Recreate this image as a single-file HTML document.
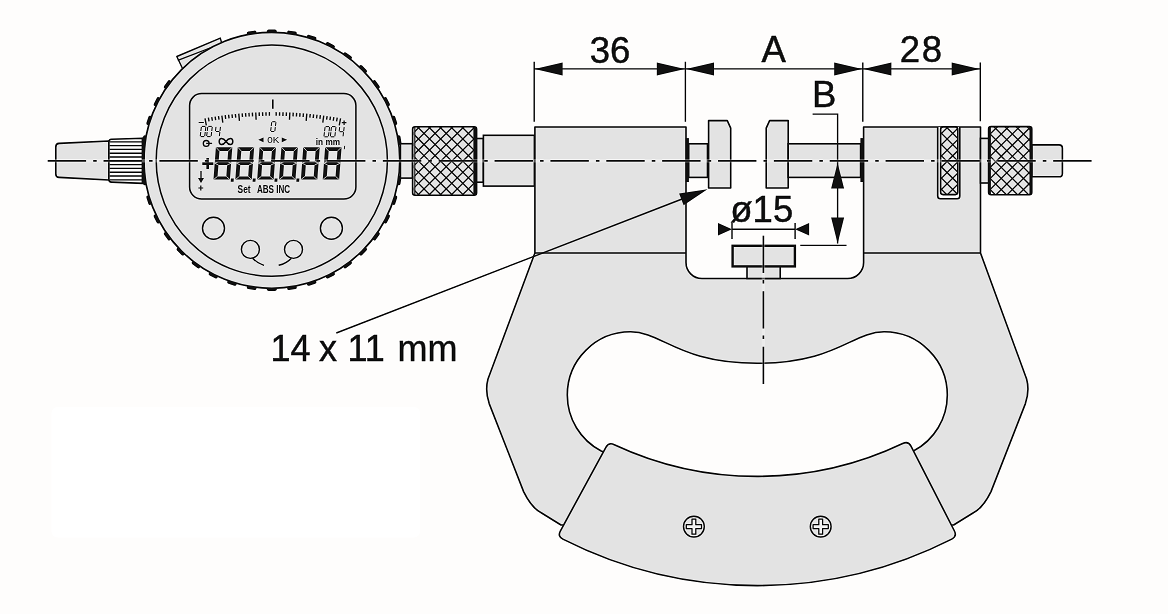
<!DOCTYPE html>
<html><head><meta charset="utf-8"><title>Micrometer</title>
<style>html,body{margin:0;padding:0;background:#fefdfc;}svg{display:block;will-change:transform;}</style></head>
<body><svg width="1168" height="614" viewBox="0 0 1168 614"><defs><filter id="sh" x="0" y="0" width="1168" height="614" filterUnits="userSpaceOnUse" color-interpolation-filters="sRGB"><feConvolveMatrix order="3" kernelMatrix="0 -0.07 0 -0.07 1.28 -0.07 0 -0.07 0" divisor="1" edgeMode="duplicate" preserveAlpha="true"/></filter></defs><g filter="url(#sh)"><rect x="0" y="0" width="1168" height="614" fill="#fefdfc"/>
<rect x="51.5" y="407" width="368.5" height="130.5" rx="6" fill="#ffffff"/>
<g fill="#111111"><rect x="-4.9" y="-1.8" width="9.8" height="3.6" rx="1.8" transform="translate(400.80,160.30) rotate(90.0)"/><rect x="-4.9" y="-1.8" width="9.8" height="3.6" rx="1.8" transform="translate(399.21,140.12) rotate(81.0)"/><rect x="-4.9" y="-1.8" width="9.8" height="3.6" rx="1.8" transform="translate(394.49,120.44) rotate(72.0)"/><rect x="-4.9" y="-1.8" width="9.8" height="3.6" rx="1.8" transform="translate(386.74,101.74) rotate(63.0)"/><rect x="-4.9" y="-1.8" width="9.8" height="3.6" rx="1.8" transform="translate(376.16,84.48) rotate(54.0)"/><rect x="-4.9" y="-1.8" width="9.8" height="3.6" rx="1.8" transform="translate(363.02,69.08) rotate(45.0)"/><rect x="-4.9" y="-1.8" width="9.8" height="3.6" rx="1.8" transform="translate(347.62,55.94) rotate(36.0)"/><rect x="-4.9" y="-1.8" width="9.8" height="3.6" rx="1.8" transform="translate(330.36,45.36) rotate(27.0)"/><rect x="-4.9" y="-1.8" width="9.8" height="3.6" rx="1.8" transform="translate(311.66,37.61) rotate(18.0)"/><rect x="-4.9" y="-1.8" width="9.8" height="3.6" rx="1.8" transform="translate(291.98,32.89) rotate(9.0)"/><rect x="-4.9" y="-1.8" width="9.8" height="3.6" rx="1.8" transform="translate(271.80,31.30) rotate(0.0)"/><rect x="-4.9" y="-1.8" width="9.8" height="3.6" rx="1.8" transform="translate(251.62,32.89) rotate(-9.0)"/><rect x="-4.9" y="-1.8" width="9.8" height="3.6" rx="1.8" transform="translate(167.44,84.48) rotate(-54.0)"/><rect x="-4.9" y="-1.8" width="9.8" height="3.6" rx="1.8" transform="translate(156.86,101.74) rotate(-63.0)"/><rect x="-4.9" y="-1.8" width="9.8" height="3.6" rx="1.8" transform="translate(149.11,120.44) rotate(-72.0)"/><rect x="-4.9" y="-1.8" width="9.8" height="3.6" rx="1.8" transform="translate(144.39,140.12) rotate(-81.0)"/><rect x="-4.9" y="-1.8" width="9.8" height="3.6" rx="1.8" transform="translate(142.80,160.30) rotate(-90.0)"/><rect x="-4.9" y="-1.8" width="9.8" height="3.6" rx="1.8" transform="translate(144.39,180.48) rotate(-99.0)"/><rect x="-4.9" y="-1.8" width="9.8" height="3.6" rx="1.8" transform="translate(149.11,200.16) rotate(-108.0)"/><rect x="-4.9" y="-1.8" width="9.8" height="3.6" rx="1.8" transform="translate(156.86,218.86) rotate(-117.0)"/><rect x="-4.9" y="-1.8" width="9.8" height="3.6" rx="1.8" transform="translate(167.44,236.12) rotate(-126.0)"/><rect x="-4.9" y="-1.8" width="9.8" height="3.6" rx="1.8" transform="translate(180.58,251.52) rotate(-135.0)"/><rect x="-4.9" y="-1.8" width="9.8" height="3.6" rx="1.8" transform="translate(195.98,264.66) rotate(-144.0)"/><rect x="-4.9" y="-1.8" width="9.8" height="3.6" rx="1.8" transform="translate(213.24,275.24) rotate(-153.0)"/><rect x="-4.9" y="-1.8" width="9.8" height="3.6" rx="1.8" transform="translate(231.94,282.99) rotate(-162.0)"/><rect x="-4.9" y="-1.8" width="9.8" height="3.6" rx="1.8" transform="translate(251.62,287.71) rotate(-171.0)"/><rect x="-4.9" y="-1.8" width="9.8" height="3.6" rx="1.8" transform="translate(271.80,289.30) rotate(-180.0)"/><rect x="-4.9" y="-1.8" width="9.8" height="3.6" rx="1.8" transform="translate(291.98,287.71) rotate(-189.0)"/><rect x="-4.9" y="-1.8" width="9.8" height="3.6" rx="1.8" transform="translate(311.66,282.99) rotate(-198.0)"/><rect x="-4.9" y="-1.8" width="9.8" height="3.6" rx="1.8" transform="translate(330.36,275.24) rotate(-207.0)"/><rect x="-4.9" y="-1.8" width="9.8" height="3.6" rx="1.8" transform="translate(347.62,264.66) rotate(-216.0)"/><rect x="-4.9" y="-1.8" width="9.8" height="3.6" rx="1.8" transform="translate(363.02,251.52) rotate(-225.0)"/><rect x="-4.9" y="-1.8" width="9.8" height="3.6" rx="1.8" transform="translate(376.16,236.12) rotate(-234.0)"/><rect x="-4.9" y="-1.8" width="9.8" height="3.6" rx="1.8" transform="translate(386.74,218.86) rotate(-243.0)"/><rect x="-4.9" y="-1.8" width="9.8" height="3.6" rx="1.8" transform="translate(394.49,200.16) rotate(-252.0)"/><rect x="-4.9" y="-1.8" width="9.8" height="3.6" rx="1.8" transform="translate(399.21,180.48) rotate(-261.0)"/></g>
<path d="M182.5,68.5 L176.8,56.5 L220.3,38.1 L221.8,43.5" fill="#e3e3e3" stroke="#111111" stroke-width="1.4" stroke-linejoin="round"/>
<path d="M177.8,60.3 L210,48" fill="none" stroke="#111111" stroke-width="1.3"/>
<circle cx="271.8" cy="160.3" r="128.0" fill="#e3e3e3" stroke="#111111" stroke-width="1.7"/>
<circle cx="271.8" cy="160.60000000000002" r="115.6" fill="none" stroke="#111111" stroke-width="1.5"/>
<rect x="189.6" y="93.6" width="166.3" height="105.5" rx="12" fill="#e3e3e3" stroke="#111111" stroke-width="1.5"/>
<g fill="none" stroke="#111111" stroke-width="1.4"><circle cx="213.5" cy="228.2" r="11"/><circle cx="331.4" cy="228.2" r="11"/><circle cx="250.4" cy="249.4" r="9"/><circle cx="293.5" cy="249.4" r="9"/><path d="M252.6,258.2 Q257.5,263.5 264,265.3"/><path d="M291.4,258.2 Q286.5,263.5 278.7,265.3"/></g>
<path d="M108.8,141 L59,143.4 Q55.8,143.6 55.8,147 L55.8,174 Q55.8,177.3 59,177.4 L108.8,180 Z" fill="#e3e3e3" stroke="#111111" stroke-width="1.6" stroke-linejoin="round"/>
<path d="M143,138.2 L111.5,139.3 Q108.9,139.5 108.9,142 L108.9,179.5 Q108.9,182 111.5,182.1 L143,183.4 Z" fill="#f6f6f6" stroke="#111111" stroke-width="1.6" stroke-linejoin="round"/>
<g stroke="#111111" stroke-width="1.35"><line x1="109.5" y1="141.80" x2="142.5" y2="141.80"/><line x1="109.5" y1="145.60" x2="142.5" y2="145.60"/><line x1="109.5" y1="149.40" x2="142.5" y2="149.40"/><line x1="109.5" y1="153.20" x2="142.5" y2="153.20"/><line x1="109.5" y1="157.00" x2="142.5" y2="157.00"/><line x1="109.5" y1="160.80" x2="142.5" y2="160.80"/><line x1="109.5" y1="164.60" x2="142.5" y2="164.60"/><line x1="109.5" y1="168.40" x2="142.5" y2="168.40"/><line x1="109.5" y1="172.20" x2="142.5" y2="172.20"/><line x1="109.5" y1="176.00" x2="142.5" y2="176.00"/><line x1="109.5" y1="179.80" x2="142.5" y2="179.80"/></g>
<path d="M141.6,138 L145.6,136.5 Q144,160.4 145.6,184.5 L141.6,183.5 Z" fill="#111111"/>
<rect x="400.4" y="143.7" width="12.2" height="34.4" fill="#e3e3e3" stroke="#111111" stroke-width="1.6"/>
<clipPath id="k1"><rect x="412.6" y="126.8" width="64.0" height="68.39999999999999" rx="2.5"/></clipPath><rect x="412.6" y="126.8" width="64.0" height="68.39999999999999" rx="2.5" fill="#e3e3e3"/><g clip-path="url(#k1)" stroke="#111111" stroke-width="1.3"><line x1="323.60" y1="121.8" x2="402.00" y2="200.2"/><line x1="334.70" y1="121.8" x2="413.10" y2="200.2"/><line x1="345.80" y1="121.8" x2="424.20" y2="200.2"/><line x1="356.90" y1="121.8" x2="435.30" y2="200.2"/><line x1="368.00" y1="121.8" x2="446.40" y2="200.2"/><line x1="379.10" y1="121.8" x2="457.50" y2="200.2"/><line x1="390.20" y1="121.8" x2="468.60" y2="200.2"/><line x1="401.30" y1="121.8" x2="479.70" y2="200.2"/><line x1="412.40" y1="121.8" x2="490.80" y2="200.2"/><line x1="423.50" y1="121.8" x2="501.90" y2="200.2"/><line x1="434.60" y1="121.8" x2="513.00" y2="200.2"/><line x1="445.70" y1="121.8" x2="524.10" y2="200.2"/><line x1="456.80" y1="121.8" x2="535.20" y2="200.2"/><line x1="467.90" y1="121.8" x2="546.30" y2="200.2"/><line x1="479.00" y1="121.8" x2="557.40" y2="200.2"/><line x1="490.10" y1="121.8" x2="568.50" y2="200.2"/><line x1="402.30" y1="121.8" x2="323.90" y2="200.2"/><line x1="413.40" y1="121.8" x2="335.00" y2="200.2"/><line x1="424.50" y1="121.8" x2="346.10" y2="200.2"/><line x1="435.60" y1="121.8" x2="357.20" y2="200.2"/><line x1="446.70" y1="121.8" x2="368.30" y2="200.2"/><line x1="457.80" y1="121.8" x2="379.40" y2="200.2"/><line x1="468.90" y1="121.8" x2="390.50" y2="200.2"/><line x1="480.00" y1="121.8" x2="401.60" y2="200.2"/><line x1="491.10" y1="121.8" x2="412.70" y2="200.2"/><line x1="502.20" y1="121.8" x2="423.80" y2="200.2"/><line x1="513.30" y1="121.8" x2="434.90" y2="200.2"/><line x1="524.40" y1="121.8" x2="446.00" y2="200.2"/><line x1="535.50" y1="121.8" x2="457.10" y2="200.2"/><line x1="546.60" y1="121.8" x2="468.20" y2="200.2"/><line x1="557.70" y1="121.8" x2="479.30" y2="200.2"/><line x1="568.80" y1="121.8" x2="490.40" y2="200.2"/></g><rect x="413.40000000000003" y="126.8" width="1.4" height="68.39999999999999" fill="#f2f2f2" clip-path="url(#k1)"/><line x1="414.8" y1="126.8" x2="414.8" y2="195.2" stroke="#111111" stroke-width="1.1"/><rect x="473.40000000000003" y="126.8" width="3.2" height="68.39999999999999" fill="#111111" clip-path="url(#k1)"/><rect x="412.6" y="126.8" width="64.0" height="68.39999999999999" rx="2.5" fill="none" stroke="#111111" stroke-width="1.6"/>
<rect x="476.6" y="138.5" width="6.8" height="43.7" fill="#e3e3e3" stroke="#111111" stroke-width="1.6"/>
<rect x="483.4" y="135.3" width="51" height="50.8" fill="#e3e3e3" stroke="#111111" stroke-width="1.6"/>
<path d="M534.9,127.05 H686 V262.5 A16,16 0 0 0 702,278.5 H847.6 A16,16 0 0 0 863.6,262.5 V127.05 H980.5 V253 L1026.6,379 Q1029.8,390.5 1025.4,403.6 L991,491.6 Q983,508 973,513 L953.6,525 L561,525 L541.6,513 Q531.6,508 523.6,491.6 L489.2,403.6 Q484.8,390.5 488,379 L534.9,253 Z M567.3,395.0 A63.2,63.2 0 0 1 630.5,331.8 C662.5,331.8 678.3,363.3 757.3,363.3 C836.3,363.3 852.1,331.8 884.1,331.8 A63.2,63.2 0 0 1 947.3,395.0 A63.2,63.2 0 0 1 913.3999999999999,451 Q757.3,520 601.2,451 A63.2,63.2 0 0 1 567.3,395.0 Z" fill="#e3e3e3" fill-rule="evenodd" stroke="#111111" stroke-width="1.6" stroke-linejoin="round"/>
<path d="M534.9,253 H686 M863.6,253 H980.5" stroke="#111111" stroke-width="1.6"/>
<path d="M937.7,127.05 V196 Q937.7,198.8 940.5,198.8 H957 Q959.8,198.8 959.8,196 V127.05" fill="#ffffff" stroke="#111111" stroke-width="1.6"/>
<clipPath id="k2"><rect x="940.6" y="126.9" width="17.199999999999932" height="67.69999999999999" rx="2.5"/></clipPath><rect x="940.6" y="126.9" width="17.199999999999932" height="67.69999999999999" rx="2.5" fill="#e3e3e3"/><g clip-path="url(#k2)" stroke="#111111" stroke-width="1.3"><line x1="851.60" y1="121.9" x2="929.30" y2="199.6"/><line x1="862.80" y1="121.9" x2="940.50" y2="199.6"/><line x1="874.00" y1="121.9" x2="951.70" y2="199.6"/><line x1="885.20" y1="121.9" x2="962.90" y2="199.6"/><line x1="896.40" y1="121.9" x2="974.10" y2="199.6"/><line x1="907.60" y1="121.9" x2="985.30" y2="199.6"/><line x1="918.80" y1="121.9" x2="996.50" y2="199.6"/><line x1="930.00" y1="121.9" x2="1007.70" y2="199.6"/><line x1="941.20" y1="121.9" x2="1018.90" y2="199.6"/><line x1="952.40" y1="121.9" x2="1030.10" y2="199.6"/><line x1="963.60" y1="121.9" x2="1041.30" y2="199.6"/><line x1="974.80" y1="121.9" x2="1052.50" y2="199.6"/><line x1="930.60" y1="121.9" x2="852.90" y2="199.6"/><line x1="941.80" y1="121.9" x2="864.10" y2="199.6"/><line x1="953.00" y1="121.9" x2="875.30" y2="199.6"/><line x1="964.20" y1="121.9" x2="886.50" y2="199.6"/><line x1="975.40" y1="121.9" x2="897.70" y2="199.6"/><line x1="986.60" y1="121.9" x2="908.90" y2="199.6"/><line x1="997.80" y1="121.9" x2="920.10" y2="199.6"/><line x1="1009.00" y1="121.9" x2="931.30" y2="199.6"/><line x1="1020.20" y1="121.9" x2="942.50" y2="199.6"/><line x1="1031.40" y1="121.9" x2="953.70" y2="199.6"/><line x1="1042.60" y1="121.9" x2="964.90" y2="199.6"/></g><rect x="940.6" y="126.9" width="17.199999999999932" height="67.69999999999999" rx="2.5" fill="none" stroke="#111111" stroke-width="1.6"/>
<rect x="980.5" y="138.4" width="8.3" height="44.6" fill="#e3e3e3" stroke="#111111" stroke-width="1.6"/>
<path d="M1031.8,144.9 H1059 Q1062.4,144.9 1062.4,148.3 V173.4 Q1062.4,176.8 1059,176.8 H1031.8 Z" fill="#e3e3e3" stroke="#111111" stroke-width="1.6"/>
<clipPath id="k3"><rect x="988.6" y="126.6" width="43.19999999999993" height="68.20000000000002" rx="2.5"/></clipPath><rect x="988.6" y="126.6" width="43.19999999999993" height="68.20000000000002" rx="2.5" fill="#e3e3e3"/><g clip-path="url(#k3)" stroke="#111111" stroke-width="1.3"><line x1="900.00" y1="121.6" x2="978.20" y2="199.8"/><line x1="911.10" y1="121.6" x2="989.30" y2="199.8"/><line x1="922.20" y1="121.6" x2="1000.40" y2="199.8"/><line x1="933.30" y1="121.6" x2="1011.50" y2="199.8"/><line x1="944.40" y1="121.6" x2="1022.60" y2="199.8"/><line x1="955.50" y1="121.6" x2="1033.70" y2="199.8"/><line x1="966.60" y1="121.6" x2="1044.80" y2="199.8"/><line x1="977.70" y1="121.6" x2="1055.90" y2="199.8"/><line x1="988.80" y1="121.6" x2="1067.00" y2="199.8"/><line x1="999.90" y1="121.6" x2="1078.10" y2="199.8"/><line x1="1011.00" y1="121.6" x2="1089.20" y2="199.8"/><line x1="1022.10" y1="121.6" x2="1100.30" y2="199.8"/><line x1="1033.20" y1="121.6" x2="1111.40" y2="199.8"/><line x1="1044.30" y1="121.6" x2="1122.50" y2="199.8"/><line x1="980.40" y1="121.6" x2="902.20" y2="199.8"/><line x1="991.50" y1="121.6" x2="913.30" y2="199.8"/><line x1="1002.60" y1="121.6" x2="924.40" y2="199.8"/><line x1="1013.70" y1="121.6" x2="935.50" y2="199.8"/><line x1="1024.80" y1="121.6" x2="946.60" y2="199.8"/><line x1="1035.90" y1="121.6" x2="957.70" y2="199.8"/><line x1="1047.00" y1="121.6" x2="968.80" y2="199.8"/><line x1="1058.10" y1="121.6" x2="979.90" y2="199.8"/><line x1="1069.20" y1="121.6" x2="991.00" y2="199.8"/><line x1="1080.30" y1="121.6" x2="1002.10" y2="199.8"/><line x1="1091.40" y1="121.6" x2="1013.20" y2="199.8"/><line x1="1102.50" y1="121.6" x2="1024.30" y2="199.8"/><line x1="1113.60" y1="121.6" x2="1035.40" y2="199.8"/><line x1="1124.70" y1="121.6" x2="1046.50" y2="199.8"/></g><rect x="988.6" y="126.6" width="2.3" height="68.20000000000002" fill="#111111" clip-path="url(#k3)"/><rect x="1029.5" y="126.6" width="2.3" height="68.20000000000002" fill="#111111" clip-path="url(#k3)"/><rect x="988.6" y="126.6" width="43.19999999999993" height="68.20000000000002" rx="2.5" fill="none" stroke="#111111" stroke-width="1.6"/>
<rect x="688.7" y="143.8" width="18.8" height="33.6" fill="#e3e3e3" stroke="#111111" stroke-width="1.6"/>
<rect x="685.8" y="138.1" width="3.1" height="43.9" fill="#111111"/>
<path d="M708.6,120.6 H727.3 L730.7,128.2 V188 H708.6 Z" fill="#e3e3e3" stroke="#111111" stroke-width="1.6" stroke-linejoin="round"/>
<path d="M788.2,120.6 H769.6 L766.2,128.2 V188 H788.2 Z" fill="#e3e3e3" stroke="#111111" stroke-width="1.6" stroke-linejoin="round"/>
<rect x="788.2" y="143.8" width="72.4" height="33.6" fill="#e3e3e3" stroke="#111111" stroke-width="1.6"/>
<rect x="860.4" y="138.1" width="3.1" height="43.9" fill="#111111"/>
<rect x="747" y="266" width="33.2" height="12.5" fill="#e3e3e3" stroke="#111111" stroke-width="1.6"/>
<rect x="732.6" y="245.8" width="62.3" height="20.6" fill="#e3e3e3" stroke="#111111" stroke-width="2.4"/>
<path d="M605.87,447.27 Q608.74,442.00 614.32,444.67 A338,338 0 0 0 902.67,443.54 Q908.25,440.82 910.98,446.16 L954.43,530.99 Q957.16,536.33 951.76,539.12 A430,430 0 0 1 562.86,539.13 Q557.46,536.34 560.33,531.07 Z" fill="#e3e3e3" stroke="#111111" stroke-width="1.6" stroke-linejoin="round"/>
<circle cx="693.9" cy="526.6" r="10.4" fill="#e3e3e3" stroke="#111111" stroke-width="1.4"/><path d="M692.0,519.0 h3.8 v5.7 h5.7 v3.8 h-5.7 v5.7 h-3.8 v-5.7 h-5.7 v-3.8 h5.7 Z" fill="#eeeeee" stroke="#111111" stroke-width="1.25" stroke-linejoin="round"/>
<circle cx="820.7" cy="526.6" r="10.4" fill="#e3e3e3" stroke="#111111" stroke-width="1.4"/><path d="M818.8000000000001,519.0 h3.8 v5.7 h5.7 v3.8 h-5.7 v5.7 h-3.8 v-5.7 h-5.7 v-3.8 h5.7 Z" fill="#eeeeee" stroke="#111111" stroke-width="1.25" stroke-linejoin="round"/>
<path d="M534.2,61.7 V121.8 M685.4,61.7 V121.8 M862.8,62.6 V121.8 M980.3,62.6 V121.2 M534,68.9 H980.3 M812.6,114.1 H837.6 V243.6 M800.3,245.4 H846.5 M732,223 V239.1 M795.1,223 V239.1 M732,229.2 H795.1" fill="none" stroke="#111111" stroke-width="1.4"/><path d="M534.60,68.90 L562.60,62.40 L562.60,75.40 Z" fill="#111111"/><path d="M684.80,68.90 L656.80,75.40 L656.80,62.40 Z" fill="#111111"/><path d="M686.00,68.90 L714.00,62.40 L714.00,75.40 Z" fill="#111111"/><path d="M862.20,68.90 L834.20,75.40 L834.20,62.40 Z" fill="#111111"/><path d="M863.40,68.90 L891.40,62.40 L891.40,75.40 Z" fill="#111111"/><path d="M979.70,68.90 L951.70,75.40 L951.70,62.40 Z" fill="#111111"/><path d="M837.60,162.90 L844.10,188.40 L831.10,188.40 Z" fill="#111111"/><path d="M837.60,243.60 L831.10,217.60 L844.10,217.60 Z" fill="#111111"/><path d="M732.00,229.20 L718.00,235.45 L718.00,222.95 Z" fill="#111111"/><path d="M795.10,229.20 L809.10,222.95 L809.10,235.45 Z" fill="#111111"/>
<path d="M336.3,333 L695,194" stroke="#111111" stroke-width="1.4"/>
<path d="M707.50,189.20 L683.65,205.14 L679.13,193.49 Z" fill="#111111"/>
<g style="font-family:'Liberation Sans',sans-serif" fill="#111111" stroke="#111111" stroke-width="0.45" font-size="36.5"><text x="589.8" y="62.6">36</text><text x="761.6" y="62.3">A</text><text x="899.8" y="62.3" letter-spacing="1.6">28</text><text x="812" y="107">B</text><text x="730.3" y="222.3">ø15</text></g>
<g style="font-family:'Liberation Sans',sans-serif" fill="#111111" stroke="#111111" stroke-width="0.45" font-size="36"><text x="270.5" y="361">14</text><text x="319" y="361">x</text><text x="347.5" y="361">11</text><text x="397.5" y="361">mm</text></g>
<line x1="272.8" y1="99.5" x2="272.8" y2="108.8" stroke="#141414" stroke-width="1.6"/><g stroke="#141414" stroke-width="1.35"><line x1="206.33" y1="125.35" x2="205.03" y2="118.27"/><line x1="209.02" y1="121.31" x2="208.39" y2="117.67"/><line x1="212.35" y1="120.75" x2="211.75" y2="117.10"/><line x1="215.68" y1="120.22" x2="215.11" y2="116.56"/><line x1="219.01" y1="119.71" x2="218.48" y2="116.05"/><line x1="222.83" y1="122.71" x2="221.85" y2="115.57"/><line x1="225.70" y1="118.80" x2="225.23" y2="115.13"/><line x1="229.05" y1="118.38" x2="228.61" y2="114.71"/><line x1="232.40" y1="118.00" x2="232.00" y2="114.32"/><line x1="235.75" y1="117.65" x2="235.38" y2="113.97"/><line x1="239.43" y1="120.82" x2="238.78" y2="113.64"/><line x1="242.47" y1="117.04" x2="242.17" y2="113.35"/><line x1="245.84" y1="116.78" x2="245.57" y2="113.09"/><line x1="249.20" y1="116.55" x2="248.97" y2="112.86"/><line x1="252.57" y1="116.35" x2="252.37" y2="112.66"/><line x1="256.10" y1="119.68" x2="255.77" y2="112.49"/><line x1="259.31" y1="116.04" x2="259.17" y2="112.35"/><line x1="262.68" y1="115.94" x2="262.58" y2="112.24"/><line x1="266.05" y1="115.86" x2="265.99" y2="112.16"/><line x1="269.43" y1="115.82" x2="269.39" y2="112.12"/><line x1="276.17" y1="115.82" x2="276.21" y2="112.12"/><line x1="279.55" y1="115.86" x2="279.61" y2="112.16"/><line x1="282.92" y1="115.94" x2="283.02" y2="112.24"/><line x1="286.29" y1="116.04" x2="286.43" y2="112.35"/><line x1="289.50" y1="119.68" x2="289.83" y2="112.49"/><line x1="293.03" y1="116.35" x2="293.23" y2="112.66"/><line x1="296.40" y1="116.55" x2="296.63" y2="112.86"/><line x1="299.76" y1="116.78" x2="300.03" y2="113.09"/><line x1="303.13" y1="117.04" x2="303.43" y2="113.35"/><line x1="306.17" y1="120.82" x2="306.82" y2="113.64"/><line x1="309.85" y1="117.65" x2="310.22" y2="113.97"/><line x1="313.20" y1="118.00" x2="313.60" y2="114.32"/><line x1="316.55" y1="118.38" x2="316.99" y2="114.71"/><line x1="319.90" y1="118.80" x2="320.37" y2="115.13"/><line x1="322.77" y1="122.71" x2="323.75" y2="115.57"/><line x1="326.59" y1="119.71" x2="327.12" y2="116.05"/><line x1="329.92" y1="120.22" x2="330.49" y2="116.56"/><line x1="333.25" y1="120.75" x2="333.85" y2="117.10"/><line x1="336.58" y1="121.31" x2="337.21" y2="117.67"/><line x1="339.27" y1="125.35" x2="340.57" y2="118.27"/></g><path d="M198.7,122.5 H203.8 M341.8,122.7 H346.4 M344.1,120.4 V125" stroke="#141414" stroke-width="1.2"/><path d="M202.32,126.40 L205.02,126.40 M205.82,127.30 L205.42,130.60 M205.20,132.40 L204.81,135.70 M201.10,136.60 L203.80,136.60 M200.70,132.40 L200.31,135.70 M201.32,127.30 L200.92,130.60 " stroke="#141414" stroke-width="1.0" fill="none" stroke-linecap="round"/><path d="M208.72,126.40 L211.42,126.40 M212.22,127.30 L211.82,130.60 M211.60,132.40 L211.21,135.70 M207.50,136.60 L210.20,136.60 M207.10,132.40 L206.71,135.70 M207.72,127.30 L207.32,130.60 " stroke="#141414" stroke-width="1.0" fill="none" stroke-linecap="round"/><path d="M215.92,127.30 L215.52,130.60 M216.31,131.50 L219.01,131.50 M220.42,127.30 L220.02,130.60 M219.80,132.40 L219.41,135.70 " stroke="#141414" stroke-width="1.0" fill="none" stroke-linecap="round"/><path d="M326.02,126.60 L328.72,126.60 M329.52,127.50 L329.12,130.80 M328.90,132.60 L328.51,135.90 M324.80,136.80 L327.50,136.80 M324.40,132.60 L324.01,135.90 M325.02,127.50 L324.62,130.80 " stroke="#141414" stroke-width="1.0" fill="none" stroke-linecap="round"/><path d="M332.42,126.60 L335.12,126.60 M335.92,127.50 L335.52,130.80 M335.30,132.60 L334.91,135.90 M331.20,136.80 L333.90,136.80 M330.80,132.60 L330.41,135.90 M331.42,127.50 L331.02,130.80 " stroke="#141414" stroke-width="1.0" fill="none" stroke-linecap="round"/><path d="M339.62,127.50 L339.22,130.80 M340.01,131.70 L342.71,131.70 M344.12,127.50 L343.72,130.80 M343.50,132.60 L343.11,135.90 " stroke="#141414" stroke-width="1.0" fill="none" stroke-linecap="round"/><path d="M272.68,121.70 L275.08,121.70 M275.87,122.60 L275.50,125.70 M275.28,127.50 L274.91,130.60 M271.50,131.50 L273.90,131.50 M271.08,127.50 L270.71,130.60 M271.67,122.60 L271.30,125.70 " stroke="#141414" stroke-width="1.0" fill="none" stroke-linecap="round"/><g style="font-family:'Liberation Sans',sans-serif" fill="#141414"><text x="267.3" y="142.7" font-size="9.6" textLength="12" lengthAdjust="spacingAndGlyphs">0K</text><text x="315.8" y="144.7" font-size="9.6" font-weight="bold" textLength="24.2" lengthAdjust="spacingAndGlyphs">in mm</text><text x="237.6" y="192.8" font-size="10" font-weight="bold" textLength="13" lengthAdjust="spacingAndGlyphs">Set</text><text x="256.9" y="192.8" font-size="10" font-weight="bold" textLength="33.2" lengthAdjust="spacingAndGlyphs">ABS INC</text></g><path d="M263.5,137.4 L258.3,139.8 L263.5,142.2 Z M281.8,137.4 L287.1,139.8 L281.8,142.2 Z" fill="#141414"/><path d="M226,141.5 C223,137.3 219.2,137.6 219.2,141.5 C219.2,145.4 223,145.7 226,141.5 C229,137.3 232.8,137.6 232.8,141.5 C232.8,145.4 229,145.7 226,141.5 Z" fill="none" stroke="#141414" stroke-width="1.5"/><circle cx="206.2" cy="143.4" r="2.9" fill="none" stroke="#141414" stroke-width="1.3"/><line x1="206.2" y1="143.4" x2="212.1" y2="143.4" stroke="#141414" stroke-width="1.3"/><path d="M207.7,158 V168.9 M202.3,163.6 H213.3" stroke="#141414" stroke-width="2.6"/><path d="M201,171 V179" stroke="#141414" stroke-width="1.3"/><path d="M198,178 L204,178 L201,183 Z" fill="#141414"/><path d="M200.8,185.6 V190.4 M198.4,188 H203.2" stroke="#141414" stroke-width="1.2"/><line x1="344.6" y1="145.9" x2="344.4" y2="149.2" stroke="#141414" stroke-width="0.9"/><g transform="matrix(1,0,-0.0741,1,215.9,147.2)"><path d="M0,0 H16.4 V32.4 H0 Z M3.8,3.8 V14.2 H12.599999999999998 V3.8 Z M3.8,17.8 V29.2 H12.599999999999998 V17.8 Z" fill="#141414" fill-rule="evenodd"/><path d="M0,0 L3.8,3.8 M16.4,0 L12.599999999999998,3.8 M0,32.4 L3.8,29.2 M16.4,32.4 L12.599999999999998,29.2 M0,16.0 L3.8,14.2 M0,16.0 L3.8,17.8 M16.4,16.0 L12.599999999999998,14.2 M16.4,16.0 L12.599999999999998,17.8" stroke="#e8e8e8" stroke-width="0.75"/></g><path d="M231.00,178.6 h2.8 l-0.25,3.2 h-2.8 Z" fill="#141414"/><g transform="matrix(1,0,-0.0741,1,237.75,147.2)"><path d="M0,0 H16.4 V32.4 H0 Z M3.8,3.8 V14.2 H12.599999999999998 V3.8 Z M3.8,17.8 V29.2 H12.599999999999998 V17.8 Z" fill="#141414" fill-rule="evenodd"/><path d="M0,0 L3.8,3.8 M16.4,0 L12.599999999999998,3.8 M0,32.4 L3.8,29.2 M16.4,32.4 L12.599999999999998,29.2 M0,16.0 L3.8,14.2 M0,16.0 L3.8,17.8 M16.4,16.0 L12.599999999999998,14.2 M16.4,16.0 L12.599999999999998,17.8" stroke="#e8e8e8" stroke-width="0.75"/></g><path d="M252.85,178.6 h2.8 l-0.25,3.2 h-2.8 Z" fill="#141414"/><g transform="matrix(1,0,-0.0741,1,259.6,147.2)"><path d="M0,0 H16.4 V32.4 H0 Z M3.8,3.8 V14.2 H12.599999999999998 V3.8 Z M3.8,17.8 V29.2 H12.599999999999998 V17.8 Z" fill="#141414" fill-rule="evenodd"/><path d="M0,0 L3.8,3.8 M16.4,0 L12.599999999999998,3.8 M0,32.4 L3.8,29.2 M16.4,32.4 L12.599999999999998,29.2 M0,16.0 L3.8,14.2 M0,16.0 L3.8,17.8 M16.4,16.0 L12.599999999999998,14.2 M16.4,16.0 L12.599999999999998,17.8" stroke="#e8e8e8" stroke-width="0.75"/></g><path d="M274.70,178.6 h2.8 l-0.25,3.2 h-2.8 Z" fill="#141414"/><g transform="matrix(1,0,-0.0741,1,281.45000000000005,147.2)"><path d="M0,0 H16.4 V32.4 H0 Z M3.8,3.8 V14.2 H12.599999999999998 V3.8 Z M3.8,17.8 V29.2 H12.599999999999998 V17.8 Z" fill="#141414" fill-rule="evenodd"/><path d="M0,0 L3.8,3.8 M16.4,0 L12.599999999999998,3.8 M0,32.4 L3.8,29.2 M16.4,32.4 L12.599999999999998,29.2 M0,16.0 L3.8,14.2 M0,16.0 L3.8,17.8 M16.4,16.0 L12.599999999999998,14.2 M16.4,16.0 L12.599999999999998,17.8" stroke="#e8e8e8" stroke-width="0.75"/></g><path d="M296.55,178.6 h2.8 l-0.25,3.2 h-2.8 Z" fill="#141414"/><g transform="matrix(1,0,-0.0741,1,303.3,147.2)"><path d="M0,0 H16.4 V32.4 H0 Z M3.8,3.8 V14.2 H12.599999999999998 V3.8 Z M3.8,17.8 V29.2 H12.599999999999998 V17.8 Z" fill="#141414" fill-rule="evenodd"/><path d="M0,0 L3.8,3.8 M16.4,0 L12.599999999999998,3.8 M0,32.4 L3.8,29.2 M16.4,32.4 L12.599999999999998,29.2 M0,16.0 L3.8,14.2 M0,16.0 L3.8,17.8 M16.4,16.0 L12.599999999999998,14.2 M16.4,16.0 L12.599999999999998,17.8" stroke="#e8e8e8" stroke-width="0.75"/></g><g transform="matrix(1,0,-0.0741,1,325.15,147.2)"><path d="M0,0 H16.4 V32.4 H0 Z M3.8,3.8 V14.2 H12.599999999999998 V3.8 Z M3.8,17.8 V29.2 H12.599999999999998 V17.8 Z" fill="#141414" fill-rule="evenodd"/><path d="M0,0 L3.8,3.8 M16.4,0 L12.599999999999998,3.8 M0,32.4 L3.8,29.2 M16.4,32.4 L12.599999999999998,29.2 M0,16.0 L3.8,14.2 M0,16.0 L3.8,17.8 M16.4,16.0 L12.599999999999998,14.2 M16.4,16.0 L12.599999999999998,17.8" stroke="#e8e8e8" stroke-width="0.75"/></g>
<line x1="47.7" y1="160.8" x2="1091.8" y2="160.8" stroke="#ffffff" stroke-opacity="0.3" stroke-width="3.6"/>
<line x1="763.4" y1="235.7" x2="763.4" y2="386" stroke="#ffffff" stroke-opacity="0.3" stroke-width="3.4"/>
<line x1="47.7" y1="160.8" x2="1091.8" y2="160.8" stroke="#181818" stroke-width="1.65" stroke-dasharray="38.4 7.1 3.5 6.86"/>
<line x1="763.4" y1="235.7" x2="763.4" y2="386" stroke="#101010" stroke-width="1.6" stroke-dasharray="37.3 7.1 3.5 7.6"/></g></svg></body></html>
